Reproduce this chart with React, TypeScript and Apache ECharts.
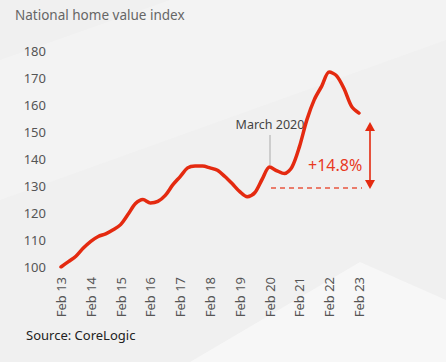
import React, { useEffect, useRef } from "react";
import * as echarts from "echarts";

const yearLabels = ["13", "14", "15", "16", "17", "18", "19", "20", "21", "22", "23"];
const quarterMonths = ["Feb", "May", "Aug", "Nov"];
// Quarterly national home value index readings, Feb 13 .. Feb 23
const indexValues = [
  100, 102, 104, 107,
  109.5, 111.3, 112.3, 113.8,
  115.7, 119.5, 123.5, 125,
  123.7, 124.3, 126.5, 130.4,
  133.5, 136.7, 137.4, 137.4,
  136.7, 135.8, 133.5, 130.8,
  127.9, 126, 127.5, 132.5,
  137, 135.6, 134.6, 137,
  144.5, 154.5, 162, 167,
  172.2, 170.8, 166, 159.5,
  157,
];
const yMin = 100;
const yMax = 180;
const yStep = 10;

const categories: string[] = [];
yearLabels.forEach((y, yi) => {
  quarterMonths.forEach((m, mi) => {
    if (yi === yearLabels.length - 1 && mi > 0) return;
    categories.push(`${m} ${y}`);
  });
});

const FONT = "'Noto Sans', sans-serif";

export default function App() {
  const ref = useRef<HTMLDivElement>(null);
  useEffect(() => {
    document.body.style.margin = "0";
    if (!ref.current) return;
    const chart = echarts.init(ref.current, null, { renderer: "svg" });
    const red = "#e42a10";
    chart.setOption({
      animation: false,
      backgroundColor: "#f0f0f0",
      textStyle: { fontFamily: FONT },
      grid: { left: 61, right: 87, top: 51, bottom: 95 },
      xAxis: {
        type: "category",
        data: categories,
        boundaryGap: false,
        axisLine: { show: false },
        axisTick: { show: false },
        splitLine: { show: false },
        axisLabel: {
          interval: 3,
          rotate: 90,
          margin: 10,
          color: "#555",
          fontSize: 13,
          fontFamily: FONT,
        },
      },
      yAxis: {
        type: "value",
        min: yMin,
        max: yMax,
        interval: yStep,
        axisLine: { show: false },
        axisTick: { show: false },
        splitLine: { show: false },
        axisLabel: { color: "#555", fontSize: 13, margin: 15, fontFamily: FONT },
      },
      graphic: [
        {
          type: "polygon",
          z: -10,
          silent: true,
          shape: { points: [[190, 362], [360, 262], [446, 300], [446, 362]] },
          style: { fill: "#f7f7f7" },
        },
        {
          type: "polygon",
          z: -10,
          silent: true,
          shape: { points: [[0, 60], [170, 0], [446, 0], [446, 40], [0, 200]] },
          style: { fill: "#f3f3f3" },
        },
        {
          type: "text",
          left: 15,
          top: 8,
          style: { text: "National home value index", fill: "#666", font: `13.5px ${FONT}` },
        },
        {
          type: "text",
          left: 26,
          top: 328,
          style: { text: "Source: CoreLogic", fill: "#222", font: `13px ${FONT}` },
        },
        {
          type: "text",
          x: 270,
          y: 124,
          style: {
            text: "March 2020",
            fill: "#444",
            font: `12.5px ${FONT}`,
            align: "center",
            verticalAlign: "middle",
          },
        },
        {
          type: "line",
          shape: { x1: 270, y1: 135, x2: 270, y2: 165 },
          style: { stroke: "#aaa", lineWidth: 1 },
        },
        {
          type: "text",
          x: 308,
          y: 165,
          style: {
            text: "+14.8%",
            fill: "#e8391f",
            font: `16px ${FONT}`,
            verticalAlign: "middle",
          },
        },
        {
          type: "line",
          shape: { x1: 271, y1: 188, x2: 362, y2: 188 },
          style: { stroke: "#e8553f", lineWidth: 1.3, lineDash: [5, 4] },
        },
        {
          type: "line",
          shape: { x1: 370, y1: 128, x2: 370, y2: 183 },
          style: { stroke: red, lineWidth: 1.6 },
        },
        {
          type: "polygon",
          shape: { points: [[370, 122], [365, 131], [375, 131]] },
          style: { fill: red },
        },
        {
          type: "polygon",
          shape: { points: [[370, 189], [365, 180], [375, 180]] },
          style: { fill: red },
        },
      ],
      series: [
        {
          type: "line",
          data: indexValues,
          smooth: 0.3,
          showSymbol: false,
          lineStyle: { color: red, width: 3.5, cap: "round", join: "round" },
          z: 5,
        },
      ],
    });
    return () => chart.dispose();
  }, []);
  return <div ref={ref} style={{ width: 446, height: 362 }} />;
}
